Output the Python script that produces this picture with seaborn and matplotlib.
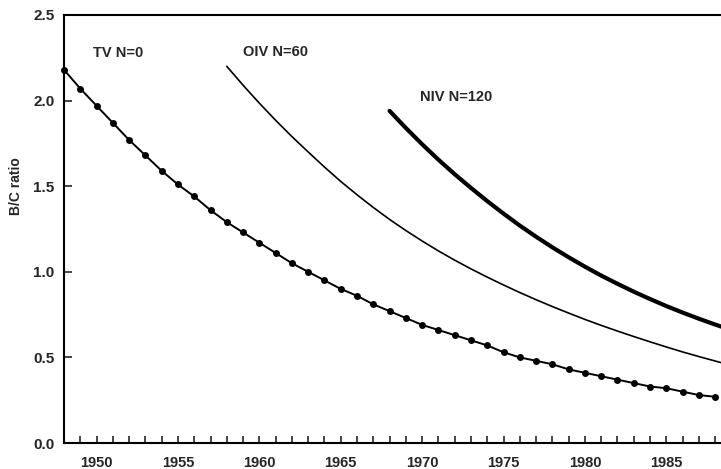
import matplotlib
matplotlib.use("Agg")
import matplotlib.pyplot as plt
import seaborn as sns
import pandas as pd
from matplotlib.ticker import MultipleLocator

sns.set_style("ticks")
plt.rcParams['font.family'] = ['Liberation Sans', 'DejaVu Sans']
plt.rcParams['font.weight'] = 'bold'

# ---- data ----
tv_years = list(range(1948, 1989))
tv_ratio = [2.18, 2.07, 1.97, 1.87, 1.77, 1.68, 1.59, 1.51, 1.44, 1.36,
            1.29, 1.23, 1.17, 1.11, 1.05, 1.00, 0.95, 0.90, 0.86, 0.81,
            0.77, 0.73, 0.69, 0.66, 0.63, 0.60, 0.57, 0.53, 0.50, 0.48,
            0.46, 0.43, 0.41, 0.39, 0.37, 0.35, 0.33, 0.32, 0.30, 0.28, 0.27]

oiv_years = list(range(1958, 1989)) + [1988.5]
oiv_ratio = [2.20, 2.09, 1.985, 1.885, 1.79, 1.70, 1.612, 1.528, 1.45, 1.376,
             1.306, 1.241, 1.180, 1.122, 1.068, 1.017, 0.969, 0.923, 0.879, 0.837,
             0.797, 0.759, 0.722, 0.687, 0.654, 0.622, 0.591, 0.561, 0.532, 0.505,
             0.479, 0.466]

niv_years = list(range(1968, 1989)) + [1988.5]
niv_ratio = [1.94, 1.84, 1.745, 1.655, 1.57, 1.49, 1.413, 1.34, 1.27, 1.205,
             1.143, 1.085, 1.03, 0.978, 0.93, 0.884, 0.841, 0.80, 0.762, 0.726,
             0.692, 0.676]

labels = ["TV N=0", "OIV N=60", "NIV N=120"]
label_pos = [(1949.8, 2.28), (1959.0, 2.285), (1969.9, 2.02)]

x_ticks = [1950, 1955, 1960, 1965, 1970, 1975, 1980, 1985]
y_ticks = [0.0, 0.5, 1.0, 1.5, 2.0, 2.5]

df_tv = pd.DataFrame({"year": tv_years, "ratio": tv_ratio})
df_oiv = pd.DataFrame({"year": oiv_years, "ratio": oiv_ratio})
df_niv = pd.DataFrame({"year": niv_years, "ratio": niv_ratio})

W, H = 721, 469
fig = plt.figure(figsize=(W / 100, H / 100), dpi=100)
left, bottom, top = 64, 443, 15
ax = fig.add_axes([left / W, (H - bottom) / H, (W - left) / W + 0.002, (bottom - top) / H])

sns.lineplot(data=df_tv, x="year", y="ratio", ax=ax, color="black", lw=1.4,
             marker="o", markersize=5, markeredgewidth=0, clip_on=False)
sns.lineplot(data=df_oiv, x="year", y="ratio", ax=ax, color="black", lw=1.2)
sns.lineplot(data=df_niv, x="year", y="ratio", ax=ax, color="black", lw=3.0)

for txt, (xx, yy) in zip(labels, label_pos):
    ax.text(xx, yy, txt, fontsize=10.5, fontweight="bold", ha="left", va="center")

ax.set_xlim(1948, 1988.45)
ax.set_ylim(0, 2.5)
ax.set_xticks(x_ticks)
ax.xaxis.set_minor_locator(MultipleLocator(1))
ax.set_yticks(y_ticks)
ax.set_yticklabels([f"{v:.1f}" for v in y_ticks])

ax.tick_params(axis="x", which="both", direction="in", length=5, width=1.2,
               pad=9, labelsize=10.5)
ax.tick_params(axis="y", which="both", direction="in", length=6, width=1.2,
               pad=7, labelsize=11)
for lab in ax.get_xticklabels() + ax.get_yticklabels():
    lab.set_fontweight("bold")

ax.set_xlabel("")
ax.set_ylabel("B/C ratio", fontsize=10, fontweight="bold")
ax.yaxis.set_label_coords(-0.062, 0.60)

for s in ["left", "bottom", "top"]:
    ax.spines[s].set_linewidth(1.5)
    ax.spines[s].set_color("black")
ax.spines["right"].set_visible(False)

fig.savefig("out.png", dpi=100)
